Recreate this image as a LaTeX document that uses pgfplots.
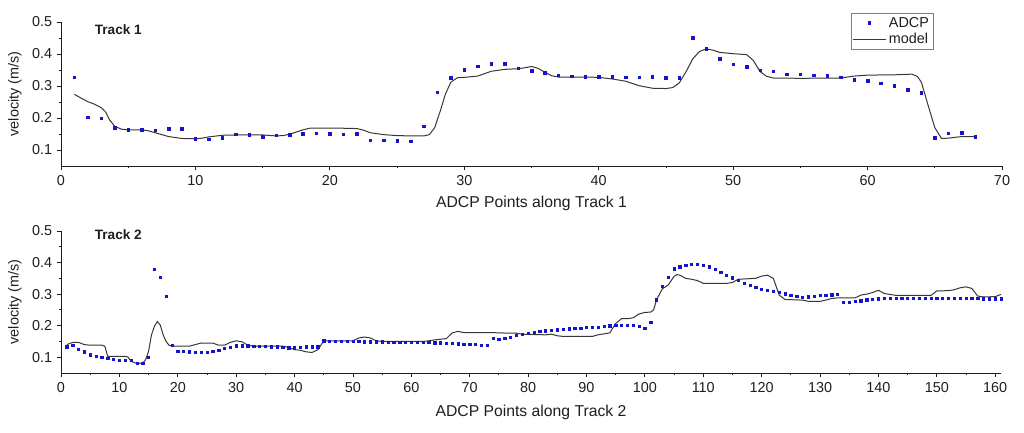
\documentclass[border=0pt]{standalone}
\usepackage{fontspec}
\setmainfont{Liberation Sans}
\usepackage{pgfplots}
\pgfplotsset{compat=1.18}
\definecolor{adcp}{RGB}{20,20,205}
\definecolor{model}{RGB}{55,55,55}
\definecolor{txt}{RGB}{30,30,30}

\pgfplotsset{
  trackax/.style={
    scale only axis, anchor=south west, clip=false,
    axis x line*=bottom, axis y line*=left,
    axis line style={-, txt, line width=0.6pt},
    tick align=outside, tick style={txt, line width=0.6pt},
    major tick length=3.2pt, minor tick length=1.8pt,
    minor x tick num=1, minor y tick num=1,
    ymin=0.05, ymax=0.5, ytick={0.1,0.2,0.3,0.4,0.5},
    yticklabel style={/pgf/number format/fixed, /pgf/number format/fixed zerofill, /pgf/number format/precision=1},
    /pgf/number format/assume math mode=true,
    tick label style={font=\fontsize{10.8}{12}\selectfont, text=txt},
    ylabel={velocity (m/s)},
    ylabel style={font=\fontsize{10.8}{12}\selectfont, text=txt, at={(axis description cs:-0.049,0.5)}, anchor=center},
    xlabel style={font=\fontsize{11.8}{13}\selectfont, text=txt, anchor=center},
    legend image code/.code={\draw[mark repeat=2,mark phase=2,##1] plot coordinates {(0cm,0cm) (0.43cm,0cm) (0.86cm,0cm)};},
  },
  adcpst/.style={only marks, mark=square*, mark size=0.95pt, color=adcp},
  modelst/.style={no marks, color=model, line width=0.75pt},
}

\begin{document}
\begin{tikzpicture}
\useasboundingbox (0,0) rectangle (768pt,324pt);

\begin{axis}[trackax,
  at={(45.75pt,199.5pt)}, width=705.75pt, height=108pt,
  xmin=0, xmax=70, xtick={0,10,...,70},
  xlabel={ADCP Points along Track 1},
  xlabel style={at={(axis description cs:0.5,-0.257)}},
  legend style={at={(rel axis cs:0.927,1.065)}, anchor=north east, draw=gray, line width=0.5pt,
    font=\fontsize{10.8}{12}\selectfont, text=txt, inner sep=1pt, row sep=-1pt, cells={anchor=west}},
]
\addplot[adcpst] coordinates {
(1,0.328)(2,0.202)(3,0.199)(4,0.169)(5,0.163)(6,0.163)(7,0.161)(8,0.167)(9,0.166)(10,0.135)
(11,0.133)(12,0.139)(13,0.149)(14,0.147)(15,0.142)(16,0.146)(17,0.148)(18,0.150)(19,0.153)(20,0.150)
(21,0.149)(22,0.150)(23,0.130)(24,0.130)(25,0.129)(26,0.127)(27,0.174)(28,0.281)(29,0.326)(30,0.351)
(31,0.361)(32,0.370)(33,0.369)(34,0.355)(35,0.347)(36,0.341)(37,0.334)(38,0.330)(39,0.329)(40,0.329)
(41,0.329)(42,0.327)(43,0.327)(44,0.329)(45,0.326)(46,0.326)(47,0.450)(48,0.416)(49,0.385)(50,0.368)
(51,0.360)(52,0.349)(53,0.346)(54,0.336)(55,0.336)(56,0.333)(57,0.332)(58,0.328)(59,0.319)(60,0.316)
(61,0.309)(62,0.300)(63,0.289)(64,0.279)(65,0.139)(66,0.152)(67,0.154)(68,0.142)
};
\addlegendentry{ADCP}
\addplot[modelst] coordinates {
(1,0.274)(1.5,0.262)(2,0.251)(2.5,0.243)(3,0.232)(3.3,0.220)(3.6,0.195)(4,0.174)(4.5,0.165)(5,0.163)
(6,0.163)(6.5,0.160)(7,0.154)(8,0.142)(9,0.136)(10,0.135)(10.5,0.137)(11,0.141)(12,0.146)(13,0.147)
(14,0.147)(15,0.147)(16,0.144)(16.5,0.145)(17,0.149)(17.5,0.156)(18,0.163)(18.5,0.168)(19,0.168)(20,0.168)
(21,0.168)(22,0.167)(22.5,0.162)(23,0.154)(24,0.148)(25,0.145)(26,0.144)(27,0.144)(27.4,0.148)(27.8,0.170)
(28.2,0.220)(28.6,0.275)(29,0.312)(29.5,0.326)(30,0.327)(31,0.331)(32,0.346)(33,0.352)(34,0.354)(34.5,0.357)
(35,0.361)(35.5,0.355)(36,0.343)(36.5,0.332)(37,0.328)(38,0.328)(39,0.328)(40,0.327)(41,0.322)(42,0.315)
(43,0.301)(44,0.293)(45,0.292)(45.5,0.295)(46,0.310)(46.5,0.345)(47,0.385)(47.5,0.408)(48,0.416)(48.5,0.412)
(49,0.405)(50,0.401)(51,0.398)(51.5,0.380)(52,0.345)(52.5,0.330)(53,0.325)(55,0.324)(58,0.325)(59,0.331)
(60,0.334)(62,0.335)(63.3,0.337)(63.7,0.330)(64,0.312)(64.5,0.240)(65,0.170)(65.5,0.136)(66,0.137)(67,0.142)
(68,0.142)
};
\addlegendentry{model}
\node[anchor=west, font=\bfseries\fontsize{10.2}{12}\selectfont, text=txt] at (rel axis cs:0.031,0.944) {Track 1};
\end{axis}

\begin{axis}[trackax,
  at={(45.75pt,44.25pt)}, width=705pt, height=106.5pt,
  xmin=0, xmax=161, xtick={0,10,...,160},
  xlabel={ADCP Points along Track 2},
  xlabel style={at={(axis description cs:0.5,-0.275)}},
]
\addplot[adcpst, mark size=0.85pt] coordinates {
(1,0.133)(2,0.139)(3,0.125)(4,0.117)(5,0.108)(6,0.104)(7,0.100)(8,0.096)(9,0.093)(10,0.091)
(11,0.091)(12,0.090)(13,0.082)(14,0.082)(15,0.100)(16,0.379)(17,0.354)(18,0.294)(19,0.137)(20,0.120)
(21,0.120)(22,0.117)(23,0.115)(24,0.115)(25,0.115)(26,0.118)(27,0.122)(28,0.129)(29,0.131)(30,0.136)
(31,0.136)(32,0.136)(33,0.135)(34,0.134)(35,0.134)(36,0.133)(37,0.133)(38,0.132)(39,0.130)(40,0.130)
(41,0.132)(42,0.133)(43,0.133)(44,0.133)(45,0.152)(46,0.150)(47,0.150)(48,0.150)(49,0.150)(50,0.150)
(51,0.150)(52,0.149)(53,0.149)(54,0.149)(55,0.149)(56,0.148)(57,0.148)(58,0.148)(59,0.148)(60,0.148)
(61,0.147)(62,0.147)(63,0.147)(64,0.146)(65,0.146)(66,0.145)(67,0.144)(68,0.143)(69,0.142)(70,0.141)
(71,0.140)(72,0.139)(73,0.139)(74,0.161)(75,0.157)(76,0.161)(77,0.164)(78,0.169)(79,0.173)(80,0.177)
(81,0.180)(82,0.182)(83,0.184)(84,0.186)(85,0.187)(86,0.189)(87,0.190)(88,0.191)(89,0.192)(90,0.194)
(91,0.195)(92,0.196)(93,0.198)(94,0.200)(95,0.201)(96,0.202)(97,0.202)(98,0.201)(99,0.199)(100,0.191)
(101,0.211)(102,0.282)(103,0.324)(104,0.353)(105,0.380)(106,0.387)(107,0.392)(108,0.394)(109,0.394)(110,0.392)
(111,0.387)(112,0.378)(113,0.369)(114,0.360)(115,0.352)(116,0.343)(117,0.335)(118,0.328)(119,0.321)(120,0.316)
(121,0.312)(122,0.308)(123,0.305)(124,0.301)(125,0.296)(126,0.293)(127,0.291)(128,0.292)(129,0.294)(130,0.296)
(131,0.297)(132,0.298)(133,0.299)(134,0.273)(135,0.275)(136,0.277)(137,0.279)(138,0.282)(139,0.284)(140,0.285)
(141,0.286)(142,0.286)(143,0.286)(144,0.286)(145,0.286)(146,0.287)(147,0.287)(148,0.286)(149,0.286)(150,0.286)
(151,0.286)(152,0.286)(153,0.286)(154,0.286)(155,0.286)(156,0.286)(157,0.286)(158,0.285)(159,0.285)(160,0.285)
(161,0.285)
};
\addplot[modelst] coordinates {
(1,0.140)(2,0.147)(3,0.147)(4,0.140)(5,0.138)(7,0.138)(7.5,0.135)(8,0.103)(11,0.103)(11.5,0.100)
(12,0.087)(13,0.080)(14,0.082)(14.5,0.092)(15,0.119)(15.5,0.171)(16,0.198)(16.5,0.213)(17,0.202)(17.5,0.171)
(18,0.150)(18.5,0.138)(19,0.135)(22,0.135)(23,0.140)(24,0.145)(26,0.145)(27,0.138)(28,0.138)(29,0.147)
(30,0.152)(31,0.149)(32,0.138)(33,0.135)(38,0.135)(39,0.131)(40,0.124)(41,0.122)(42,0.117)(43,0.115)
(44,0.124)(45,0.152)(50,0.152)(51,0.161)(52,0.164)(53,0.161)(54,0.152)(55,0.150)(62,0.150)(63,0.152)
(64,0.155)(65,0.157)(66,0.159)(67,0.177)(68,0.182)(69,0.178)(74,0.178)(75,0.177)(78,0.176)(79,0.173)
(83,0.171)(84,0.173)(85,0.168)(86,0.166)(91,0.166)(92,0.171)(93,0.174)(94,0.177)(95,0.207)(96,0.222)
(97,0.222)(98,0.225)(99,0.237)(100,0.242)(101,0.243)(101.5,0.250)(102,0.282)(103,0.317)(104,0.329)(105,0.356)
(105.5,0.362)(106,0.360)(107,0.350)(108,0.347)(109,0.343)(110,0.334)(114,0.334)(115,0.337)(116,0.347)(119,0.350)
(120,0.357)(121,0.360)(122,0.350)(122.5,0.324)(123,0.297)(124,0.283)(127,0.281)(128,0.277)(130,0.277)(131,0.281)
(132,0.286)(133,0.288)(136,0.288)(137,0.297)(138,0.300)(139,0.305)(140,0.312)(141,0.302)(142,0.299)(143,0.296)
(149,0.296)(150,0.310)(152,0.311)(153,0.314)(154,0.320)(155,0.323)(156,0.318)(157,0.294)(158,0.291)(160,0.292)
(161,0.299)
};
\node[anchor=west, font=\bfseries\fontsize{10.2}{12}\selectfont, text=txt] at (rel axis cs:0.031,0.972) {Track 2};
\end{axis}
\end{tikzpicture}
\end{document}
